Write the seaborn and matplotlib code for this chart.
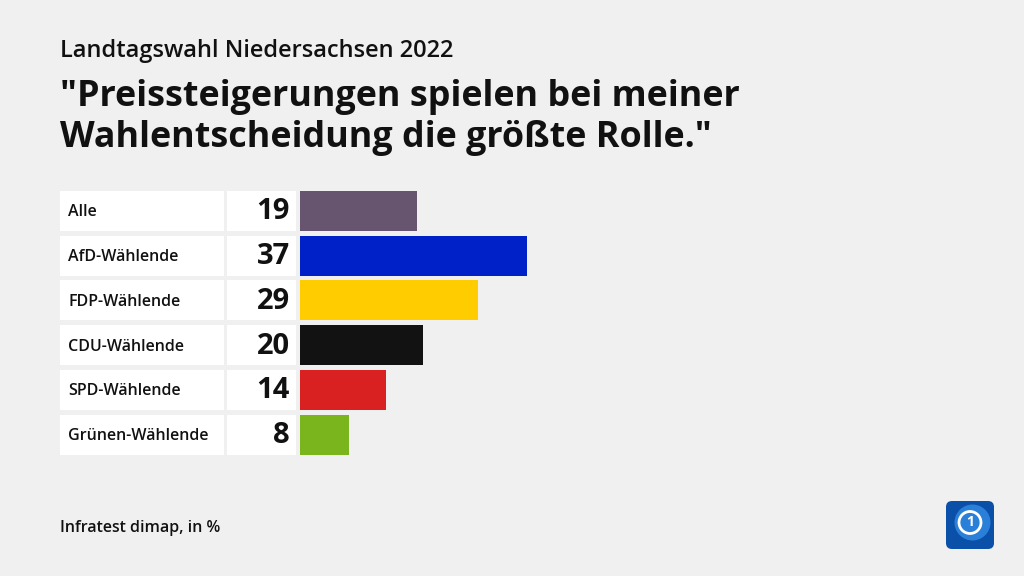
import matplotlib
matplotlib.use("Agg")
import matplotlib.pyplot as plt
import matplotlib.transforms as mtransforms
from matplotlib.patches import Rectangle, FancyBboxPatch, Circle
import seaborn as sns
import pandas as pd

categories = ["Alle", "AfD-Wählende", "FDP-Wählende", "CDU-Wählende", "SPD-Wählende", "Grünen-Wählende"]
values = [19, 37, 29, 20, 14, 8]
colors = ["#675570", "#0021c8", "#ffcc00", "#121212", "#d92121", "#7ab51d"]
subtitle = "Landtagswahl Niedersachsen 2022"
title = "\"Preissteigerungen spielen bei meiner\nWahlentscheidung die größte Rolle.\""
source = "Infratest dimap, in %"

sns.set_theme(style="white")
plt.rcParams["font.family"] = ["Open Sans", "DejaVu Sans"]

W, H = 1024, 576
BG = "#f0f0f0"
fig = plt.figure(figsize=(W / 100, H / 100), dpi=100, facecolor=BG)

px_per_unit = 6.14
ax_left, ax_right = 300, 1000
top, bottom = 188.6, 457.0
ax = fig.add_axes([ax_left / W, 1 - bottom / H, (ax_right - ax_left) / W, (bottom - top) / H])
ax.set_facecolor("none")

df = pd.DataFrame({"cat": categories, "val": values})
sns.barplot(data=df, y="cat", x="val", hue="cat", palette=colors, legend=False,
            orient="h", width=0.895, ax=ax, saturation=1, linewidth=0)
ax.set_xlim(0, (ax_right - ax_left) / px_per_unit)
ax.set_ylim(len(categories) - 0.5, -0.5)
ax.axis("off")

trans = mtransforms.blended_transform_factory(fig.transFigure, ax.transData)
for i, (c, v) in enumerate(zip(categories, values)):
    ax.add_patch(Rectangle((60 / W, i - 0.4475), (224 - 60) / W, 0.895, transform=trans,
                           facecolor="white", edgecolor="none", clip_on=False, zorder=0))
    ax.add_patch(Rectangle((227 / W, i - 0.4475), (296 - 227) / W, 0.895, transform=trans,
                           facecolor="white", edgecolor="none", clip_on=False, zorder=0))
    ax.text(68 / W, i + 0.03, c, transform=trans, ha="left", va="center", fontsize=11.5,
            fontweight="semibold", color="#111111")
    ax.text(290 / W, i + 0.02, str(v), transform=trans, ha="right", va="center", fontsize=21,
            fontweight="bold", color="#111111")

fig.text(60 / W, 1 - 51 / H, subtitle, ha="left", va="center", fontsize=17,
         fontweight="semibold", color="#111111")
fig.text(60 / W, 1 - 117.5 / H, title, ha="left", va="center", fontsize=25.8,
         fontweight="bold", color="#111111", linespacing=1.16)
fig.text(60 / W, 1 - 528 / H, source, ha="left", va="center", fontsize=11.5,
         fontweight="semibold", color="#111111")

# logo
lax = fig.add_axes([945 / W, 1 - 550 / H, 50 / W, 50 / H])
lax.set_xlim(0, 1)
lax.set_ylim(0, 1)
lax.axis("off")
lax.add_patch(FancyBboxPatch((0.02, 0.02), 0.96, 0.96, boxstyle="round,pad=0,rounding_size=0.12",
                             facecolor="#0a4fa8", edgecolor="none"))
lax.add_patch(Circle((0.55, 0.55), 0.36, facecolor="#2a7fd8", edgecolor="none"))
lax.add_patch(Circle((0.5, 0.55), 0.22, facecolor="none", edgecolor="white", linewidth=2))
lax.text(0.5, 0.55, "1", ha="center", va="center", fontsize=10, fontweight="bold", color="white")

fig.savefig("out.png", dpi=100, facecolor=BG)
